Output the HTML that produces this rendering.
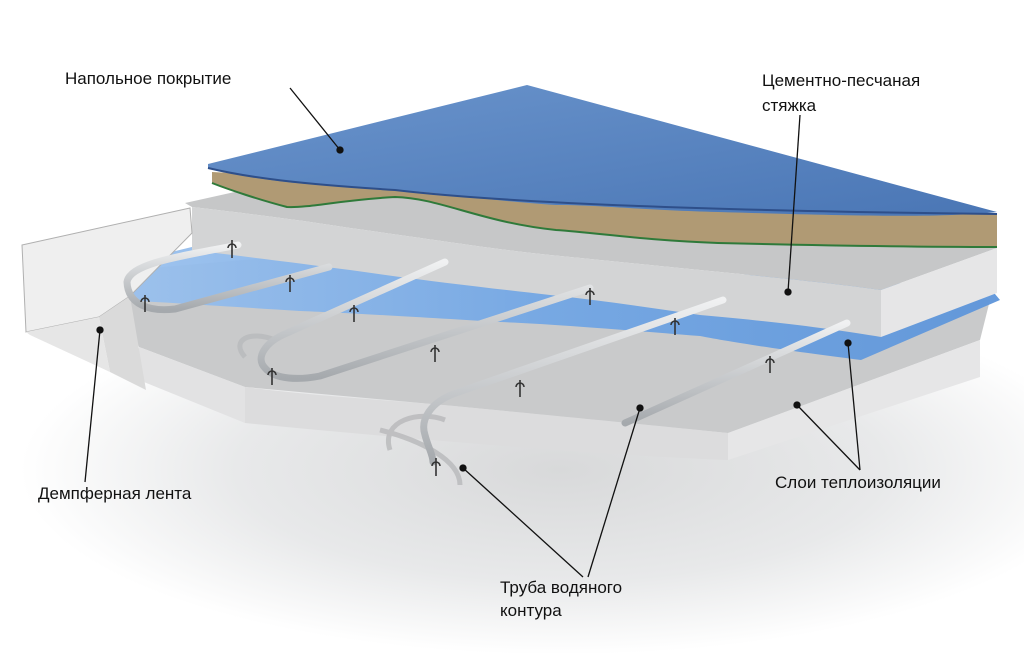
<!DOCTYPE html>
<html><head><meta charset="utf-8">
<style>
html,body{margin:0;padding:0;background:#fff;}
svg{display:block;}
text{font-family:"Liberation Sans",sans-serif;font-size:17px;fill:#111;}
</style></head>
<body>
<svg width="1024" height="653" viewBox="0 0 1024 653" xmlns="http://www.w3.org/2000/svg">
<defs>
<radialGradient id="sh" cx="0.5" cy="0.5" r="0.5">
<stop offset="0" stop-color="#d8d9da"/><stop offset="0.6" stop-color="#e8e9ea"/><stop offset="1" stop-color="#fff"/>
</radialGradient>
<linearGradient id="blue" x1="0" y1="0" x2="1" y2="1">
<stop offset="0" stop-color="#6a94cc"/><stop offset="1" stop-color="#4a76b5"/>
</linearGradient>
<linearGradient id="foil" x1="0" y1="0" x2="1" y2="0">
<stop offset="0" stop-color="#9cc2ee"/><stop offset="0.5" stop-color="#72a6e4"/><stop offset="1" stop-color="#5d95da"/>
</linearGradient>
<linearGradient id="pipe" x1="0" y1="0" x2="0" y2="1">
<stop offset="0" stop-color="#f0f1f2"/><stop offset="1" stop-color="#a5a9ad"/>
</linearGradient>
</defs>
<ellipse cx="560" cy="470" rx="540" ry="185" fill="url(#sh)"/>
<polygon points="106,272 300,255 990,300 980,340 728,433 464,407 245,387 139,347" fill="#c9cacb"/>
<path d="M139,347 L245,387 L245,423 L139,380 Z" fill="#e2e2e3"/>
<path d="M245,387 C330,398 420,402 464,407 C600,420 680,428 728,433 L728,460 C600,455 420,440 245,423 Z" fill="#dcdcdd"/>
<polygon points="728,433 980,340 980,377 728,460" fill="#e6e6e7"/>
<path d="M106,268 L200,245 L990,288 L1000,300 L861,360 C780,350 720,340 700,336 C600,328 550,324 500,322 C400,316 330,312 300,311 C220,306 160,302 120,300 Z" fill="url(#foil)" opacity="0.95"/>
<path d="M185,203 L266,185 L997,225 L997,248 L881,290 C840,284 780,278 700,270 C660,266 620,262 550,255 C500,250 450,242 350,228 C300,220 260,215 192,207 Z" fill="#c6c7c8"/>
<path d="M192,207 C260,215 300,220 350,228 C450,242 500,250 550,255 C620,262 660,266 700,270 C780,278 840,284 881,290 L881,337 C840,330 780,322 700,315 C650,308 600,300 550,295 C480,287 420,280 350,270 C290,262 240,256 192,250 Z" fill="#d3d4d5"/>
<polygon points="881,290 997,248 997,293 881,337" fill="#e6e6e7"/>
<path d="M212,172 L997,214 L997,247 C900,247 800,245 718,243 C640,240 600,233 556,230 C480,222 440,198 395,197 C340,200 310,208 287,207 C260,200 230,190 212,183 Z" fill="#b09a74"/>
<path d="M212,183 C230,190 260,200 287,207 C310,208 340,200 395,197 C440,198 480,222 556,230 C600,233 640,240 718,243 C800,245 900,247 997,247" stroke="#2f7a3a" stroke-width="2" fill="none"/>
<path d="M208,164 L527,85 L997,212 C940,218 860,216 718,212 C640,210 600,205 556,205 C480,200 440,192 395,190 C340,186 300,184 287,182 C250,178 225,172 208,168 Z" fill="url(#blue)"/>
<path d="M208,168 C250,178 300,184 395,190 C480,200 640,210 997,214" stroke="#2e4f8a" stroke-width="2" fill="none"/>
<polygon points="22,245 190,208 192,233 130,296 99,317 26,332" fill="#efefef" stroke="#b0b0b0"/>
<polygon points="99,317 130,296 146,390 110,372" fill="#dadada"/>
<polygon points="26,332 99,317 110,372 30,335" fill="#e6e6e6"/>
<g fill="none" stroke="#b8b9bb" stroke-width="5" opacity="0.8">
<path d="M245,357 C230,340 250,330 275,340"/>
<path d="M390,450 C380,420 420,410 445,420"/>
<path d="M380,430 C420,440 460,460 460,485"/>
</g>
<g fill="none" stroke="url(#pipe)" stroke-width="7" stroke-linecap="round">
<path d="M238,245 C190,255 130,262 127,282 C128,305 150,312 175,309 L329,267"/>
<path d="M445,262 L287,333 C265,342 255,358 265,368 C275,380 300,380 320,376 L590,288"/>
<path d="M723,300 L456,393 C430,402 420,420 425,435 C428,447 433,455 433,462"/>
<path d="M625,423 L847,323"/>
</g>
<g stroke="#333" stroke-width="1.6" fill="none">
<path d="M232,240 v18 M228,248 a4,4 0 0 1 8,0"/>
<path d="M290,275 v17 M286,282 a4,4 0 0 1 8,0"/>
<path d="M145,295 v17 M141,302 a4,4 0 0 1 8,0"/>
<path d="M354,305 v17 M350,312 a4,4 0 0 1 8,0"/>
<path d="M435,345 v17 M431,352 a4,4 0 0 1 8,0"/>
<path d="M272,368 v17 M268,375 a4,4 0 0 1 8,0"/>
<path d="M590,288 v17 M586,295 a4,4 0 0 1 8,0"/>
<path d="M520,380 v17 M516,387 a4,4 0 0 1 8,0"/>
<path d="M675,318 v17 M671,325 a4,4 0 0 1 8,0"/>
<path d="M770,356 v17 M766,363 a4,4 0 0 1 8,0"/>
<path d="M436,458 v18 M432,466 a4,4 0 0 1 8,0"/>
</g>
<g stroke="#111" stroke-width="1.3" fill="#111">
<line x1="290" y1="88" x2="340" y2="150"/><circle cx="340" cy="150" r="3"/>
<line x1="800" y1="115" x2="788" y2="292"/><circle cx="788" cy="292" r="3"/>
<line x1="85" y1="482" x2="100" y2="330"/><circle cx="100" cy="330" r="3"/>
<line x1="860" y1="470" x2="848" y2="343"/><circle cx="848" cy="343" r="3"/>
<line x1="860" y1="470" x2="797" y2="405"/><circle cx="797" cy="405" r="3"/>
<line x1="583" y1="577" x2="463" y2="468"/><circle cx="463" cy="468" r="3"/>
<line x1="588" y1="577" x2="640" y2="408"/><circle cx="640" cy="408" r="3"/>
</g>
<text x="65" y="84">Напольное покрытие</text>
<text x="762" y="86">Цементно-песчаная</text>
<text x="762" y="111">стяжка</text>
<text x="38" y="499">Демпферная лента</text>
<text x="775" y="488">Слои теплоизоляции</text>
<text x="500" y="593">Труба водяного</text>
<text x="500" y="616">контура</text>
</svg>
</body></html>
